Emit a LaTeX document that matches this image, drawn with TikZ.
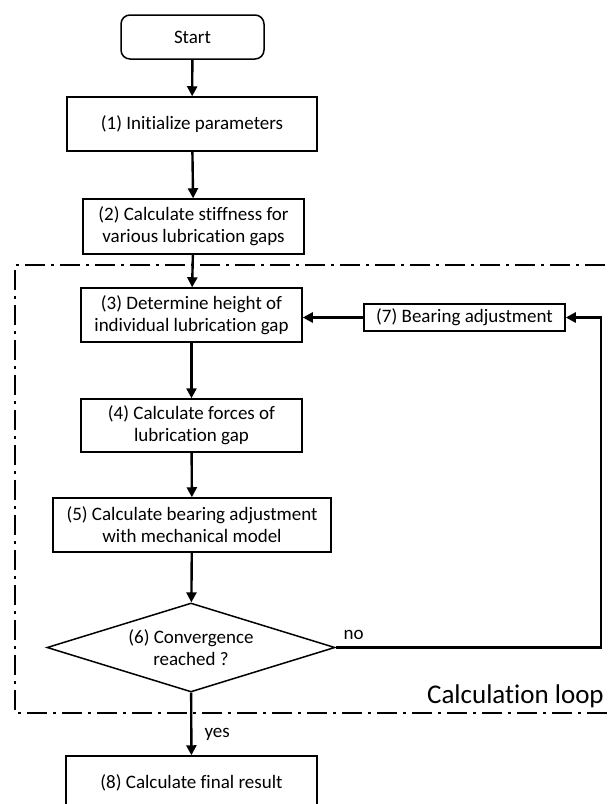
\documentclass[tikz,border=0pt]{standalone}
\usepackage{fontspec}
\setmainfont[Ligatures=NoCommon]{Carlito}
\usetikzlibrary{shapes.geometric,arrows.meta,calc}
\begin{document}
\begin{tikzpicture}[x=1pt,y=-1pt,
  txt/.style={font=\fontsize{19}{22}\selectfont},
  box/.style={txt,draw,line width=1.5pt,align=center,inner sep=0pt},
  startbox/.style={box,rounded corners=9pt},
  decision/.style={box,diamond,aspect=3.24},
  arr/.style={line width=2.4pt,-{Triangle[length=10pt,width=10pt]}},
  loopframe/.style={line width=2.2pt,dash pattern=on 20pt off 6pt on 3pt off 6pt}]
\useasboundingbox (0,0) rectangle (608,804);
\clip (0,0) rectangle (608,804);
\fill[white] (0,0) rectangle (608,804);
% loop frame
\draw[loopframe] (640,265) -- (15,265) -- (15,713) -- (640,713);
\node[txt,font=\fontsize{27}{31}\selectfont,anchor=south east,inner sep=0pt] (looplabel) at (604,708) {Calculation loop};
% nodes
\node[startbox,minimum width=143pt,minimum height=44pt] (start) at (192.5,37) {Start};
\node[box,minimum width=250pt,minimum height=54pt] (n1) at (192,124) {(1) Initialize parameters};
\node[box,minimum width=221pt,minimum height=55pt] (n2) at (193.5,226.5) {(2) Calculate stiffness for\\various lubrication gaps};
\node[box,minimum width=221pt,minimum height=54pt] (n3) at (191.5,315) {(3) Determine height of\\individual lubrication gap};
\node[box,minimum width=201pt,minimum height=27pt] (n7) at (464.5,317.5) {(7) Bearing adjustment};
\node[box,minimum width=221pt,minimum height=53pt] (n4) at (191.5,425.5) {(4) Calculate forces of\\lubrication gap};
\node[box,minimum width=278pt,minimum height=54pt] (n5) at (192,525) {(5) Calculate bearing adjustment\\with mechanical model};
\node[decision,minimum width=288pt,minimum height=89pt] (n6) at (191,647.5) {(6) Convergence\\reached ?};
\node[box,minimum width=251pt,minimum height=54pt] (n8) at (191.5,783) {(8) Calculate final result};
\coordinate (loopx) at (601,0);
% connectors
\draw[arr] (start) -- (n1);
\draw[arr] (n1) -- (n2);
\draw[arr] (n2) -- (n3);
\draw[arr] (n3) -- (n4);
\draw[arr] (n4) -- (n5);
\draw[arr] (n5) -- (n6);
\draw[arr] (n6) -- (n8);
\draw[arr] (n7.west) -- (n3.east |- n7.west);
\draw[arr] (n6.east) -- (n6.east -| loopx) |- (n7.east);
\node[txt,anchor=south west] (nolabel) at (340,643) {no};
\node[txt,anchor=west] (yeslabel) at (201,734) {yes};
\end{tikzpicture}
\end{document}
